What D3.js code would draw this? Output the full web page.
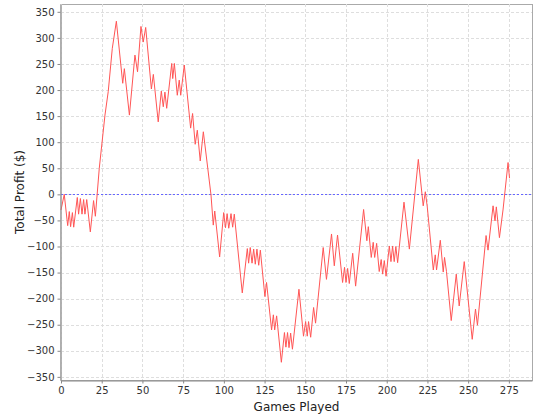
<!DOCTYPE html>
<html>
<head>
<meta charset="utf-8">
<script src="https://cdn.jsdelivr.net/npm/d3@7"></script>
<style>
  body { margin: 0; background: #fff; }
  svg { display: block; }
  .tick text { font-family: "DejaVu Sans", sans-serif; font-size: 10px; fill: #333; }
</style>
</head>
<body>
<svg id="chart" width="540" height="420"></svg>
<script>
// Game index of each turning point of the profit line
const games = [0, 2, 4.1, 5.1, 5.9, 7, 7.8, 10, 10.8, 11.9, 12.9, 13.9, 14.7, 15.8, 18, 20, 21.1, 23.5, 27, 29, 31.5, 34,
  37.9, 38.9, 42, 45.4, 47, 49.1, 50.5, 52, 55.5, 56.7, 59.7, 61.6, 62.8, 63.8, 64.9, 68, 68.6, 69.6, 71.4, 72.6, 73.5, 75.7,
  79.6, 80.8, 82.4, 83.7, 85.5, 87.4, 92.1, 93.5, 94.4, 97.4, 99.9, 101, 102, 103, 104.4, 105.4, 106.4, 111.3, 114.4, 115.2,
  116.2, 117.3, 118.3, 119.3, 120.3, 121.4, 122.4, 125.2, 126.2, 129.3, 130.4, 131.2, 132.4, 135.3, 137.2, 138.1, 139.1, 140,
  141, 142.1, 146.1, 148.9, 150.2, 151.2, 152, 153.3, 155.1, 156.3, 161, 163, 166.1, 167.8, 169.8, 172.9, 174.1, 175, 176, 177,
  179.1, 180.9, 185.8, 187.8, 188.7, 190.5, 191.7, 192.6, 193.8, 195.4, 196.6, 197.5, 198.5, 199.6, 201.6, 202.6, 203.6, 204.6,
  205.6, 206.7, 210.6, 213.9, 219.4, 222.4, 223.7, 224.9, 228.6, 229.8, 230.6, 232.9, 234.7, 235.5, 236.7, 239.6, 242.7, 244.5,
  247.6, 252.5, 254.5, 255.7, 261, 262.2, 265.3, 266.5, 267.3, 269.2, 271.4, 274.5, 275.4];
// Total profit ($) at those points
const profit = [-30, 0, -60, -33, -62, -35, -63, -6, -38, -8, -38, -10, -38, -10, -72, -12, -42, 50, 152, 197, 280, 332,
  213, 241, 152, 267, 235, 322, 292, 320, 202, 230, 139, 198, 168, 196, 165, 251, 222, 251, 190, 219, 190, 248,
  127, 155, 96, 123, 64, 120, -1, -59, -32, -120, -35, -64, -37, -65, -37, -63, -38, -189, -104, -132,
  -102, -132, -105, -134, -105, -136, -107, -196, -169, -260, -231, -260, -233, -322, -265, -293, -265, -294,
  -266, -297, -182, -272, -244, -272, -244, -274, -217, -247, -102, -163, -76, -137, -78, -169, -140, -169, -142, -171,
  -113, -176, -29, -89, -62, -121, -92, -121, -94, -148, -125, -153, -127, -157, -99, -129, -99, -129,
  -100, -131, -15, -105, 67, -22, 5, -24, -145, -116, -145, -88, -149, -121, -148, -242, -153, -214,
  -129, -278, -220, -251, -79, -107, -22, -51, -24, -83, -30, 61, 31];

const xTicks = [0, 25, 50, 75, 100, 125, 150, 175, 200, 225, 250, 275];
const yTicks = [-350, -300, -250, -200, -150, -100, -50, 0, 50, 100, 150, 200, 250, 300, 350];
const xTitle = "Games Played";
const yTitle = "Total Profit ($)";

const svg = d3.select("#chart");
const L = 61, R = 532, T = 4, B = 380;
const x = d3.scaleLinear().domain([0, 289.2]).range([L, R]);
const y = d3.scaleLinear().domain([-356, 365]).range([B, T]);

// plot background
svg.append("rect").attr("x", L).attr("y", T + 0.5).attr("width", R - L + 0.5).attr("height", B - T)
  .attr("fill", "#fff").attr("stroke", "#aaa").attr("stroke-width", 1);

// gridlines
const grid = svg.append("g").attr("stroke", "#dedede").attr("stroke-width", 1).attr("stroke-dasharray", "3,2");
grid.selectAll(".gx").data(xTicks).join("line")
  .attr("x1", d => Math.round(x(d)) + 0.5).attr("x2", d => Math.round(x(d)) + 0.5)
  .attr("y1", T).attr("y2", B);
grid.selectAll(".gy").data(yTicks).join("line")
  .attr("y1", d => Math.round(y(d)) + 0.5).attr("y2", d => Math.round(y(d)) + 0.5)
  .attr("x1", L).attr("x2", R);

// zero marker
svg.append("line").attr("x1", L).attr("x2", R)
  .attr("y1", Math.round(y(0)) + 0.5).attr("y2", Math.round(y(0)) + 0.5)
  .attr("stroke", "#6666ff").attr("stroke-width", 1).attr("stroke-dasharray", "2,2");

// line
const line = d3.line().x((d, i) => x(games[i])).y(d => y(d));
svg.append("path").datum(profit).attr("d", line)
  .attr("fill", "none").attr("stroke", "#ff5555").attr("stroke-width", 1);

// axes
const xAxis = svg.append("g").attr("transform", `translate(0,${B + 0.5})`)
  .call(d3.axisBottom(x).tickValues(xTicks).tickSize(3).tickPadding(3).tickSizeOuter(0));
const yAxis = svg.append("g").attr("transform", `translate(${L - 0.5},0)`)
  .call(d3.axisLeft(y).tickValues(yTicks).tickSize(3).tickPadding(3).tickSizeOuter(0));
[xAxis, yAxis].forEach(a => {
  a.select(".domain").attr("stroke", "#888");
  a.selectAll(".tick line").attr("stroke", "#888");
});
svg.selectAll(".tick text").attr("font-family", "'DejaVu Sans', sans-serif").attr("font-size", 10);

// titles
svg.append("text").attr("x", (L + R) / 2).attr("y", 411).attr("text-anchor", "middle")
  .attr("font-family", "'DejaVu Sans', sans-serif").attr("font-size", 12).attr("fill", "#222").text(xTitle);
svg.append("text").attr("transform", `translate(24,${(T + B) / 2}) rotate(-90)`).attr("text-anchor", "middle")
  .attr("font-family", "'DejaVu Sans', sans-serif").attr("font-size", 12).attr("fill", "#222").text(yTitle);
</script>
</body>
</html>
